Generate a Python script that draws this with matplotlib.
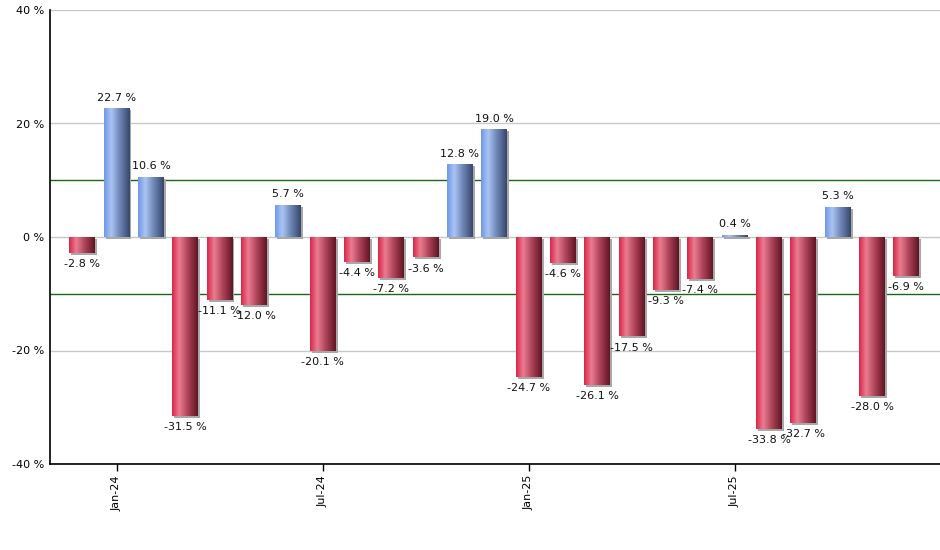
import matplotlib
matplotlib.use("Agg")
import matplotlib.pyplot as plt
import numpy as np
from matplotlib.colors import LinearSegmentedColormap
from matplotlib.patches import Rectangle
from matplotlib.transforms import offset_copy

months = ["Dec-23", "Jan-24", "Feb-24", "Mar-24", "Apr-24", "May-24", "Jun-24",
          "Jul-24", "Aug-24", "Sep-24", "Oct-24", "Nov-24", "Dec-24",
          "Jan-25", "Feb-25", "Mar-25", "Apr-25", "May-25", "Jun-25",
          "Jul-25", "Aug-25", "Sep-25", "Oct-25", "Nov-25", "Dec-25"]
values = [-2.8, 22.7, 10.6, -31.5, -11.1, -12.0, 5.7,
          -20.1, -4.4, -7.2, -3.6, 12.8, 19.0,
          -24.7, -4.6, -26.1, -17.5, -9.3, -7.4,
          0.4, -33.8, -32.7, 5.3, -28.0, -6.9]
tick_labels = ["Jan-24", "Jul-24", "Jan-25", "Jul-25"]
y_ticks = [-40, -20, 0, 20, 40]

blue_cmap = LinearSegmentedColormap.from_list(
    "b", [(0, "#6f97e6"), (0.28, "#aac5f4"), (0.6, "#7088b8"), (1, "#36466b")])
red_cmap = LinearSegmentedColormap.from_list(
    "r", [(0, "#dc2449"), (0.28, "#ea7d90"), (0.6, "#b04459"), (1, "#5f1524")])

fig = plt.figure(figsize=(9.4, 5.5), dpi=100)
ax = fig.add_axes([50/940, 86/550, 890/940, 454/550])
x = np.arange(len(values))

for yv in y_ticks:
    ax.axhline(yv, color="#c8c8c8", lw=1, zorder=0)
ax.axhline(10, color="#1a661a", lw=1, zorder=0.5)
ax.axhline(-10, color="#1a661a", lw=1, zorder=0.5)

w = 0.75
grad = np.linspace(0, 1, 256).reshape(1, -1)
shadow_tr = offset_copy(ax.transData, fig=fig, x=2, y=-2, units="dots")
for xi, v in zip(x, values):
    sh = Rectangle((xi - w/2, 0), w, v, facecolor="#a8a8a8", edgecolor="none",
                   transform=shadow_tr, zorder=1)
    ax.add_patch(sh)
    rect = Rectangle((xi - w/2, 0), w, v, facecolor="none", edgecolor="none", zorder=2)
    ax.add_patch(rect)
    cmap = blue_cmap if v >= 0 else red_cmap
    im = ax.imshow(grad, cmap=cmap, aspect="auto",
                   extent=(xi - w/2, xi + w/2, min(0, v), max(0, v)),
                   zorder=2, interpolation="bilinear")
    im.set_clip_path(rect)
    lbl = f"{v:.1f} %"
    if v >= 0:
        ax.annotate(lbl, (xi, v), xytext=(0, 4), textcoords="offset points",
                    ha="center", va="bottom", fontsize=8, color="#111111", zorder=3)
    else:
        ax.annotate(lbl, (xi, v), xytext=(0, -4.5), textcoords="offset points",
                    ha="center", va="top", fontsize=8, color="#111111", zorder=3)

ax.set_xlim(-0.94, len(values) - 0.02)
ax.set_ylim(-40, 40)
ax.set_yticks(y_ticks)
ax.set_yticklabels([f"{t} %" for t in y_ticks], fontsize=8)
ax.tick_params(axis="y", length=0, pad=4)
tick_pos = [months.index(t) for t in tick_labels]
ax.set_xticks(tick_pos)
ax.set_xticklabels(tick_labels, rotation=90, fontsize=8)
ax.tick_params(axis="x", length=5, width=1, direction="out", pad=3)
for s in ["top", "right"]:
    ax.spines[s].set_visible(False)
ax.spines["left"].set_linewidth(1.2)
ax.spines["bottom"].set_linewidth(1.2)

fig.savefig("out.png", dpi=100)
